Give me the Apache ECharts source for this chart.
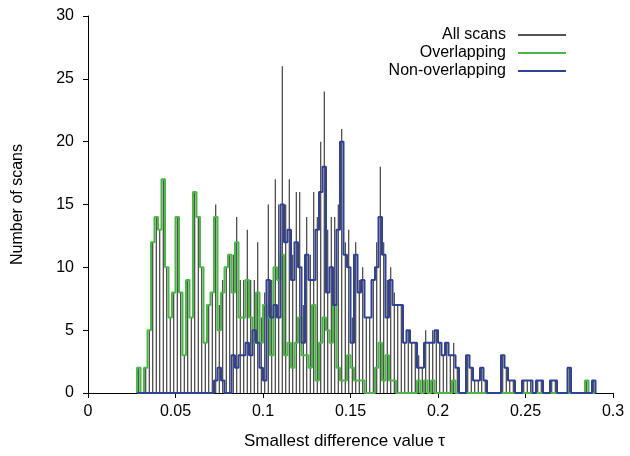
<!DOCTYPE html>
<html><head><meta charset="utf-8">
<script src="https://cdn.jsdelivr.net/npm/echarts@6/dist/echarts.min.js"></script>
<style>html,body{margin:0;padding:0;background:#fff}#c{width:630px;height:456px}</style>
</head><body><div id="c"></div>
<script>
// Histogram bins: left edge of first bin and bin width (x = smallest difference value tau)
const binStart = 0.028;
const binWidth = 0.002;

// Counts per bin (bin centres 0.029, 0.031, ... 0.289)
const overlapping = [
  2,0,2,5,12,14,13,17,10,6, 8,14,8,3,9,6,16,14,10,4,
  7,8,14,5,8,10,11,8,12,6, 6,9,6,4,8,4,7,6,3,10,
  9,11,3,4,2,4,6,3,3,2, 7,1,4,6,5,4,7,2,1,1,
  3,2,1,1,1,0,0,0,2,4, 1,3,1,1,0,0,0,0,0,0,
  1,0,1,0,1,0,0,0,0,0, 1,0,0,0,0,0,0,0,0,0,
  0,0,0,0,0,0,0,0,0,0, 0,0,0,0,0,0,0,0,0,0,
  0,0,0,0,0,0,0,0,1,0, 0
];
const nonOverlapping = [
  0,0,0,0,0,0,0,0,0,0, 0,0,0,0,0,0,0,0,0,0,
  0,0,1,2,1,0,0,3,2,3, 3,4,3,5,4,2,1,9,6,7,
  6,15,12,13,9,12,10,4,11,9, 9,13,16,18,8,10,7,13,20,11,
  10,4,11,8,9,6,6,9,10,14, 11,6,9,7,7,7,4,5,4,4,
  2,2,4,4,4,5,4,3,4,3, 3,2,0,0,3,2,1,1,2,1,
  0,0,0,0,3,2,1,1,0,0, 1,1,1,0,1,1,0,0,1,1,
  0,0,0,2,0,0,0,0,0,0, 1
];
const allScans = [
  2,0,2,5,12,14,13,17,10,6, 8,14,8,3,9,6,16,14,10,4,
  7,8,15,7,9,10,11,11,14,9, 9,13,9,9,12,6,8,15,9,17,
  15,26,15,17,11,16,16,7,14,11, 16,14,20,24,13,14,14,15,21,12,
  13,6,12,9,10,6,6,9,12,18, 12,9,10,8,7,7,4,5,4,4,
  3,2,5,4,5,5,4,3,4,3, 4,2,0,0,3,2,1,1,2,1,
  0,0,0,0,3,2,1,1,0,0, 1,1,1,0,1,1,0,0,1,1,
  0,0,0,2,0,0,0,0,1,0, 1
];

const xTicks = {min: 0, max: 0.3, interval: 0.05};
const yTicks = {min: 0, max: 30, interval: 5};

const FONT = '"Liberation Sans", Arial, Helvetica, sans-serif';

const impulseData = allScans.map((v, i) => [binStart + binWidth * (i + 0.5), v]);
function stepData(vals) {
  const d = [[binStart, 0]];
  vals.forEach((v, i) => d.push([binStart + binWidth * i, v]));
  d.push([binStart + binWidth * vals.length, 0]);
  return d;
}

const GREEN = '#4cb848';
const BLUE = '#30419a';
const BLACK = '#1a1a1a';

const chart = echarts.init(document.getElementById('c'), null, {renderer: 'canvas'});
chart.setOption({
  animation: false,
  backgroundColor: '#fff',
  grid: {left: 88, right: 17, top: 16, bottom: 63, outerBoundsMode: 'none', containLabel: false},
  legend: {
    orient: 'vertical', right: 59, top: 22, align: 'right',
    itemWidth: 48, itemHeight: 12, itemGap: 2,
    textStyle: {fontSize: 16, color: '#000', fontFamily: FONT, padding: [0, 7, 0, 0]},
    data: [
      {name: 'All scans', icon: 'path://M0,0H48V1.4H0Z'},
      {name: 'Overlapping', icon: 'path://M0,0H48V2.2H0Z'},
      {name: 'Non-overlapping', icon: 'path://M0,0H48V2.2H0Z'}
    ]
  },
  xAxis: {
    type: 'value', min: xTicks.min, max: xTicks.max, interval: xTicks.interval,
    name: 'Smallest difference value τ', nameLocation: 'middle', nameGap: 40,
    nameTextStyle: {fontSize: 17, color: '#000', fontFamily: FONT, padding: [0, 12, 0, 0]},
    axisLine: {show: true, onZero: false, lineStyle: {color: '#000', width: 1}},
    axisTick: {show: true, length: 5, lineStyle: {color: '#000'}},
    axisLabel: {fontSize: 16, color: '#000', fontFamily: FONT, margin: 11,
      formatter: v => String(+v.toFixed(2))},
    splitLine: {show: false}
  },
  yAxis: {
    type: 'value', min: yTicks.min, max: yTicks.max, interval: yTicks.interval,
    name: 'Number of scans', nameLocation: 'middle', nameGap: 62,
    nameTextStyle: {fontSize: 16, color: '#000', fontFamily: FONT},
    axisLine: {show: true, lineStyle: {color: '#000', width: 1}},
    axisTick: {show: true, length: 5, lineStyle: {color: '#000'}},
    axisLabel: {fontSize: 16, color: '#000', fontFamily: FONT, margin: 14},
    splitLine: {show: false}
  },
  series: [
    {
      name: 'All scans', type: 'bar', data: impulseData, barWidth: 1,
      itemStyle: {color: BLACK}, z: 1
    },
    {
      name: 'Overlapping', type: 'line', step: 'end', data: stepData(overlapping),
      symbol: 'none', lineStyle: {color: GREEN, width: 2}, itemStyle: {color: GREEN}, z: 2
    },
    {
      name: 'Non-overlapping', type: 'line', step: 'end', data: stepData(nonOverlapping),
      symbol: 'none', lineStyle: {color: BLUE, width: 2}, itemStyle: {color: BLUE}, z: 3
    }
  ]
});
</script>
</body></html>
